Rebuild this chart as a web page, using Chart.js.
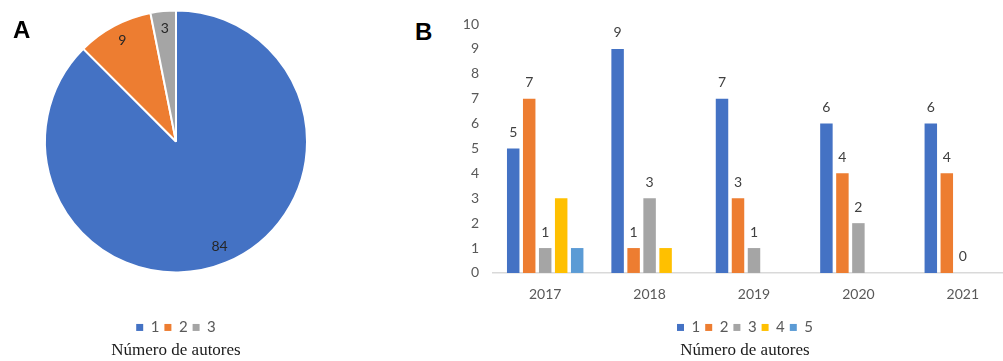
<!DOCTYPE html>
<html lang="es">
  <head>
    <meta charset="UTF-8" />
    <title>Número de autores</title>
    <script src="https://cdn.jsdelivr.net/npm/chart.js"></script>
    <style>
      html,
      body {
        margin: 0;
        padding: 0;
        background: #fff;
      }
      body {
        width: 1003px;
        height: 361px;
        position: relative;
        overflow: hidden;
      }
      .panel-tag {
        position: absolute;
        font: bold 24px "Liberation Sans", Arial, sans-serif;
        line-height: 24px;
        color: #000;
      }
      #pie-box {
        position: absolute;
        left: 0;
        top: -32px;
        width: 352px;
        height: 393px;
      }
      #bar-box {
        position: absolute;
        left: 433px;
        top: 0;
        width: 624px;
        height: 361px;
      }
    </style>
  </head>
  <body>
    <div id="pie-box"><canvas id="pieChart"></canvas></div>
    <div id="bar-box"><canvas id="barChart"></canvas></div>
    <div class="panel-tag" style="left: 13px; top: 18px">A</div>
    <div class="panel-tag" style="left: 415px; top: 20px">B</div>

    <script>
      // --- datos ---
      const pieLabels = ["1", "2", "3"];
      const pieValues = [84, 9, 3];
      const pieColors = ["#4472C4", "#ED7D31", "#A5A5A5"];

      const years = ["2017", "2018", "2019", "2020", "2021"];
      const authors1 = [5, 9, 7, 6, 6];
      const authors2 = [7, 1, 3, 4, 4];
      const authors3 = [1, 3, 1, 2, 0];
      const authors4 = [3, 1, null, null, null];
      const authors5 = [1, null, null, null, null];
      const seriesNames = ["1", "2", "3", "4", "5"];
      const seriesColors = ["#4472C4", "#ED7D31", "#A5A5A5", "#FFC000", "#5B9BD5"];
      const labelledSeries = [0, 1, 2]; // solo estas series llevan etiqueta
      const yTicks = [0, 1, 2, 3, 4, 5, 6, 7, 8, 9, 10];

      Chart.defaults.font.family = "Lato, 'Liberation Sans', sans-serif";

      // etiquetas de valor (sin plugin externo)
      const valueLabels = {
        id: "valueLabels",
        afterDatasetsDraw(chart, args, opts) {
          const ctx = chart.ctx;
          ctx.save();
          ctx.font = opts.font;
          ctx.fillStyle = opts.color;
          ctx.textAlign = "center";
          ctx.textBaseline = "middle";
          chart.data.datasets.forEach((ds, di) => {
            if (opts.only && !opts.only.includes(di)) return;
            const meta = chart.getDatasetMeta(di);
            meta.data.forEach((el, i) => {
              const v = ds.data[i];
              if (v === null || v === undefined) return;
              let x, y;
              if (el.startAngle !== undefined) {
                const mid = (el.startAngle + el.endAngle) / 2;
                x = el.x + Math.cos(mid) * el.outerRadius * opts.radial;
                y = el.y + Math.sin(mid) * el.outerRadius * opts.radial;
              } else {
                x = el.x;
                y = el.y - opts.offset;
              }
              ctx.fillText(String(v), x, y);
            });
          });
          ctx.restore();
        },
      };

      const legendLabels = {
        boxWidth: 7,
        boxHeight: 7,
        padding: 5,
        color: "#595959",
        font: { size: 15 },
      };
      const titleOpts = {
        display: true,
        position: "bottom",
        text: "Número de autores",
        color: "#1a1a1a",
        font: { family: "'Liberation Serif', serif", size: 17, weight: "normal", lineHeight: 0.65 },
        padding: { top: 0, bottom: 5 },
      };

      // --- A: pastel ---
      new Chart(document.getElementById("pieChart"), {
        type: "pie",
        data: {
          labels: pieLabels,
          datasets: [
            {
              data: pieValues,
              backgroundColor: pieColors,
              borderColor: "#fff",
              borderWidth: 2,
              radius: 131,
            },
          ],
        },
        options: {
          responsive: true,
          maintainAspectRatio: false,
          animation: false,
          plugins: {
            legend: {
              position: "bottom",
              labels: {
                ...legendLabels,
                generateLabels: (chart) =>
                  Chart.overrides.pie.plugins.legend.labels
                    .generateLabels(chart)
                    .map((l) => ({ ...l, lineWidth: 0 })),
              },
            },
            title: titleOpts,
            tooltip: { enabled: false },
            valueLabels: { font: "14px Lato", color: "#262626", radial: 0.87 },
          },
        },
        plugins: [valueLabels],
      });

      // --- B: barras ---
      const barSeries = [authors1, authors2, authors3, authors4, authors5];
      new Chart(document.getElementById("barChart"), {
        type: "bar",
        data: {
          labels: years,
          datasets: barSeries.map((d, i) => ({
            label: seriesNames[i],
            data: d,
            backgroundColor: seriesColors[i],
            categoryPercentage: 0.766,
            barPercentage: 0.78,
          })),
        },
        options: {
          responsive: true,
          maintainAspectRatio: false,
          animation: false,
          layout: { padding: { top: 24 } },
          scales: {
            x: {
              grid: { display: false, drawTicks: false },
              border: { color: "#D9D9D9", width: 1.5 },
              ticks: { padding: 13, color: "#595959", font: { size: 14 } },
              afterFit: (s) => {
                s.height = 42;
              },
            },
            y: {
              min: 0,
              max: 10,
              afterBuildTicks: (s) => {
                s.ticks = yTicks.map((v) => ({ value: v }));
              },
              ticks: { padding: 14, color: "#595959", font: { size: 14 } },
              grid: { display: false, drawTicks: false },
              border: { display: false },
              afterFit: (s) => {
                s.width = 60;
              },
            },
            yRight: {
              type: "linear",
              position: "right",
              grid: { display: false, drawTicks: false },
              border: { display: false },
              ticks: { display: false },
              afterFit: (s) => {
                s.width = 42;
              },
            },
          },
          plugins: {
            legend: { position: "bottom", labels: legendLabels },
            title: titleOpts,
            tooltip: { enabled: false },
            valueLabels: { font: "14px Lato", color: "#404040", offset: 16, only: labelledSeries },
          },
        },
        plugins: [valueLabels],
      });
    </script>
  </body>
</html>
